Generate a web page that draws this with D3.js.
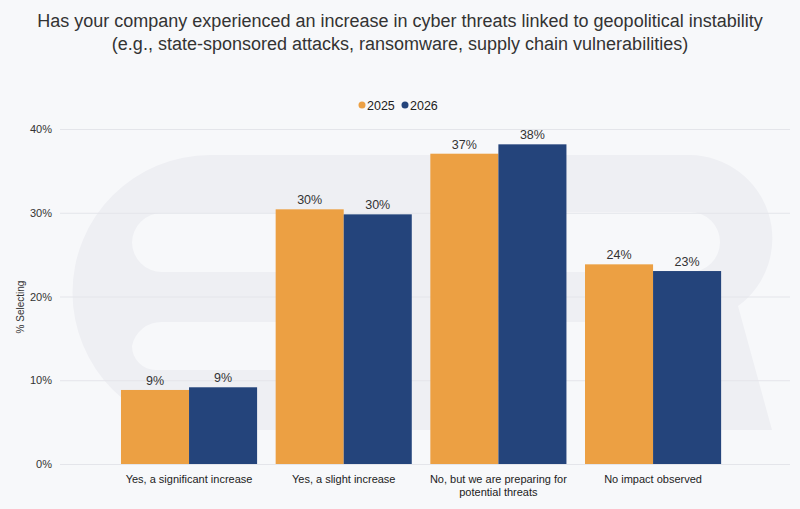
<!DOCTYPE html>
<html>
<head>
<meta charset="utf-8">
<script src="https://cdn.jsdelivr.net/npm/d3@7/dist/d3.min.js"></script>
<style>
  html, body { margin: 0; padding: 0; background: #f7f8fa; }
  svg { display: block; font-family: "Liberation Sans", Arial, Helvetica, sans-serif; }
</style>
</head>
<body>
<svg id="chart" width="800" height="509"></svg>
<script>
// ---- data ----
const titleLines = [
  "Has your company experienced an increase in cyber threats linked to geopolitical instability",
  "(e.g., state-sponsored attacks, ransomware, supply chain vulnerabilities)"
];
const categories = [
  "Yes, a significant increase",
  "Yes, a slight increase",
  "No, but we are preparing for\npotential threats",
  "No impact observed"
];
const seriesNames = ["2025", "2026"];
const values2025 = [8.84, 30.41, 37.05, 23.84];
const values2026 = [9.16, 29.81, 38.17, 23.04];
const yTicks = [0, 10, 20, 30, 40];
const yLabel = "% Selecting";
const colors = ["#eca043", "#24447b"];

// ---- layout ----
const W = 800, H = 509;
const svg = d3.select("#chart");
svg.append("rect").attr("width", W).attr("height", H).attr("fill", "#f7f8fa");

// watermark logo (decorative)
const wm = svg.append("g").attr("fill", "#eeeff3");
// "e"
wm.append("path").attr("fill-rule", "evenodd").attr("d",
  "M430,155 H210 A137.5,137.5 0 0 0 210,430 H430 Z " +
  "M430,213 H162 A30,30 0 0 0 132,243 V242 A30,30 0 0 0 162,272 H430 Z " +
  "M430,322 H162 A30,30 0 0 0 132,346 A24,24 0 0 0 156,370 H430 Z");
// "R"
wm.append("path").attr("fill-rule", "evenodd").attr("d",
  "M400,155 H690 A83.5,83.5 0 0 1 738,306 L772,430 H712 L678,322 H460 V430 H400 Z " +
  "M460,212 H690 A30,30 0 0 1 690,272 H460 Z");

const margin = { left: 60, right: 10, top: 129, bottom: 45 };
const plotBottom = 464, plotTop = 129;

const x0 = d3.scaleBand().domain(categories).range([111.7, 730.4])
  .paddingInner(0.12).paddingOuter(0.06);
const x1 = d3.scaleBand().domain(seriesNames).range([0, x0.bandwidth()]).padding(0);
const y = d3.scaleLinear().domain([0, 40]).range([plotBottom, plotTop]);

// gridlines
const yAxis = d3.axisLeft(y).tickValues(yTicks).tickFormat(d => d + "%")
  .tickSize(-(790 - 60)).tickPadding(8);
const gy = svg.append("g").attr("transform", "translate(60,0)").call(yAxis);
gy.select(".domain").remove();
gy.selectAll(".tick line").attr("stroke", "#e4e5ea").attr("stroke-width", 1);
gy.selectAll(".tick text").attr("fill", "#333").style("font-size", "11px")
  .attr("x", -8);

// y axis label
svg.append("text")
  .attr("transform", "translate(24,307) rotate(-90)")
  .attr("text-anchor", "middle")
  .attr("fill", "#333").style("font-size", "10px")
  .text(yLabel);

// bars
const rows = categories.map((c, i) => ({ cat: c, vals: [values2025[i], values2026[i]] }));
const groups = svg.append("g").selectAll("g").data(rows).join("g")
  .attr("transform", d => `translate(${x0(d.cat)},0)`);
groups.selectAll("rect").data(d => d.vals.map((v, j) => ({ key: seriesNames[j], v, j })))
  .join("rect")
  .attr("x", d => x1(d.key))
  .attr("y", d => y(d.v))
  .attr("width", x1.bandwidth())
  .attr("height", d => y(0) - y(d.v))
  .attr("fill", d => colors[d.j]);
groups.selectAll("text.val").data(d => d.vals.map((v, j) => ({ key: seriesNames[j], v, j })))
  .join("text").attr("class", "val")
  .attr("x", d => x1(d.key) + x1.bandwidth() / 2)
  .attr("y", d => y(d.v) - 5)
  .attr("text-anchor", "middle")
  .attr("fill", "#333").style("font-size", "12.5px")
  .text(d => d3.format(".0f")(d.v) + "%");

// x labels
const xl = svg.append("g").selectAll("text").data(categories).join("text")
  .attr("x", d => x0(d) + x0.bandwidth() / 2)
  .attr("y", 483)
  .attr("text-anchor", "middle")
  .attr("fill", "#222").style("font-size", "11px");
xl.each(function(d) {
  const lines = d.split("\n");
  d3.select(this).selectAll("tspan").data(lines).join("tspan")
    .attr("x", x0(d) + x0.bandwidth() / 2)
    .attr("dy", (l, i) => i === 0 ? 0 : 12.5)
    .text(l => l);
});

// title
svg.append("g").selectAll("text").data(titleLines).join("text")
  .attr("x", 400).attr("y", (d, i) => 27 + i * 23)
  .attr("text-anchor", "middle")
  .attr("fill", "#333").style("font-size", "18px")
  .text(d => d);

// legend
const legend = svg.append("g");
const legX = [362, 405];
seriesNames.forEach((s, i) => {
  legend.append("circle").attr("cx", legX[i]).attr("cy", 105).attr("r", 3.5).attr("fill", colors[i]);
  legend.append("text").attr("x", legX[i] + 5).attr("y", 109.5)
    .attr("fill", "#222").style("font-size", "12.5px").text(s);
});
</script>
</body>
</html>
